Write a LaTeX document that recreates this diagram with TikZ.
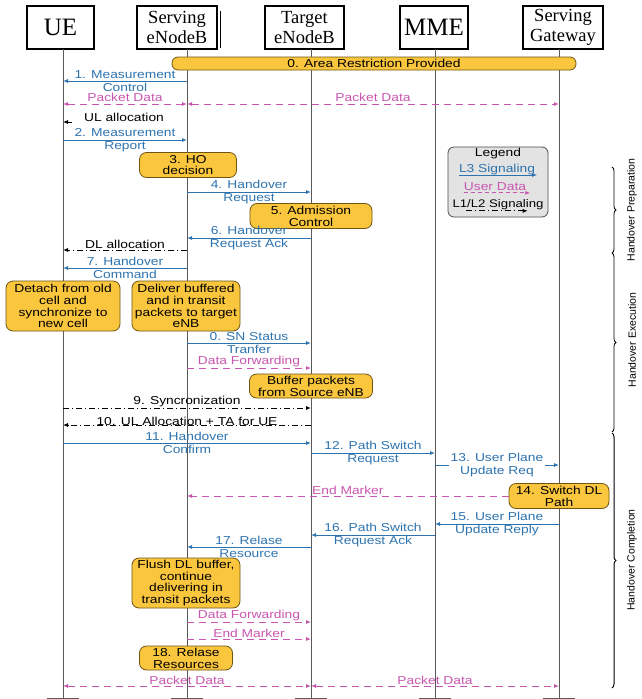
\documentclass[tikz,border=0pt]{standalone}
\usepackage{fontspec}
\setmainfont{Liberation Serif}
\setsansfont{Liberation Sans}[FakeStretch=1.2]
\newfontfamily\phasefont{Liberation Sans}
\usetikzlibrary{arrows.meta,decorations.pathreplacing}
\definecolor{lthree}{RGB}{45,115,175}
\definecolor{udata}{RGB}{200,85,175}
\definecolor{hobox}{RGB}{250,198,62}
\definecolor{hoedge}{RGB}{110,85,20}

\begin{document}
\begin{tikzpicture}[x=1pt,y=-1pt,
    head/.style={draw,line width=1.4pt,minimum height=43pt,inner sep=1pt,align=center,font=\fontsize{18.5}{20}\selectfont},
    life/.style={gray!70!black,line width=0.6pt},
    msg/.style={font=\sffamily\fontsize{11.5}{12.8}\selectfont,align=center,inner sep=0pt},
    l3/.style={lthree,line width=0.9pt,-{Latex[length=5pt,width=4pt]}},
    ud/.style={udata,line width=0.9pt,dash pattern=on 7pt off 5pt,-{Latex[length=5pt,width=4pt]}},
    udboth/.style={ud,{Latex[length=5pt,width=4pt]}-{Latex[length=5pt,width=4pt]}},
    l12/.style={black,line width=0.8pt,dash pattern=on 6pt off 3pt on 1pt off 3pt,-{Latex[length=5pt,width=4pt]}},
    action/.style={draw=hoedge,fill=hobox,rounded corners=7pt,line width=0.8pt,align=center,inner sep=1pt,font=\sffamily\fontsize{11.5}{11.8}\selectfont},
    phase/.style={decorate,decoration={brace,amplitude=4pt},line width=0.8pt}]
  \useasboundingbox (0,0) rectangle (641,699);

  % entities
  \node[head,minimum width=67pt,font=\fontsize{25}{27}\selectfont] (uehead) at (60.5,27.5) {UE};
  \node[head,minimum width=80pt] (senbhead) at (177,27.5) {Serving\\eNodeB};
  \node[head,minimum width=79pt] (tenbhead) at (304.5,27.5) {Target\\eNodeB};
  \node[head,minimum width=68pt,font=\fontsize{25}{27}\selectfont] (mmehead) at (434,27.5) {MME};
  \node[head,minimum width=80pt] (sgwhead) at (563,27.5) {Serving\\Gateway};
  \draw[line width=0.8pt] ([xshift=2.5pt,yshift=-6pt]senbhead.north east) -- ([xshift=2.5pt,yshift=2pt]senbhead.south east);

  \coordinate (ue) at (63,49);
  \coordinate (senb) at (187,49);
  \coordinate (tenb) at (311,49);
  \coordinate (mme) at (435,49);
  \coordinate (sgw) at (559,49);
  \foreach \n in {ue,senb,tenb,mme,sgw} {
    \coordinate (\n-end) at (\n |- 0,698);
    \draw[life] (\n) -- (\n |- 0,699);
    \draw[life] ([xshift=-16pt]\n-end) -- ([xshift=16pt]\n-end);
  }

  \foreach \m/\y in {m1/81,pd/104,ul/122,m2/140,m4/192,m6/238,dl/250,m7/268,m8/343,df/368,m9/408,m10/425,m11/443,m12/453,m13/465,m15/524,m16/535,m17/547,dfb/622,emb/639,pdb/686}
    \coordinate (\m) at (0,\y);

  % legend
  \node[draw=gray!60!black,fill=gray!22,rounded corners=6pt,line width=0.8pt,minimum width=100pt,minimum height=70pt] (legend) at (498,182) {};
  \node[msg] (legtitle) at (498,154) {Legend};
  \node[msg,lthree] (legl3) at (497,170) {L3 Signaling};
  \node[msg,udata] (legud) at (495,187) {User Data};
  \node[msg,font=\sffamily\fontsize{11}{12}\selectfont] (legl12) at (498,205) {L1/L2 Signaling};
  \draw[l3] ([yshift=-2pt]legl3.base west) -- ([xshift=2pt,yshift=-2pt]legl3.base east);
  \draw[ud,dash pattern=on 4pt off 3pt] ([yshift=-2pt]legud.base west) -- ([xshift=4pt,yshift=-2pt]legud.base east);
  \draw[l12] ([xshift=14pt,yshift=-3pt]legl12.base west) -- ([xshift=-16pt,yshift=-3pt]legl12.base east);

  % phases
  \draw[phase] (612,167) -- (612,253);
  \draw[phase] (612,253) -- (612,432);
  \draw[phase,line width=1pt] (612,433) -- (612,688);
  \node[rotate=90,font=\phasefont\fontsize{10.5}{12}\selectfont] (prep) at (632,210) {Handover Preparation};
  \node[rotate=90,font=\phasefont\fontsize{10.5}{12}\selectfont] (exec) at (632,340) {Handover Execution};
  \node[rotate=90,font=\phasefont\fontsize{10.5}{12}\selectfont] (comp) at (632,560) {Handover Completion};

  % preparation
  \node[action,minimum width=404pt,minimum height=13pt,rounded corners=6pt] (area) at (374,63.5) {0. Area Restriction Provided};
  \draw[l3] (senb |- m1) -- node[msg,lthree] (m1txt) {1. Measurement\\Control} (ue |- m1);
  \draw[udboth] (ue |- pd) -- node[msg,udata,above=2pt] (pdtxta) {Packet Data} (senb |- pd);
  \draw[udboth] (senb |- pd) -- node[msg,udata,above=2pt] (pdtxtb) {Packet Data} (sgw |- pd);
  \coordinate (ulstub) at (72,122);
  \draw[l12] (ulstub) -- (ue |- ul);
  \node[msg] (ultxt) at (124,117) {UL allocation};
  \draw[l3] (ue |- m2) -- node[msg,lthree] (m2txt) {2. Measurement\\Report} (senb |- m2);
  \node[action,minimum width=97pt,minimum height=25pt] (hodec) at (188,165) {3. HO\\decision};
  \draw[l3] (senb |- m4) -- node[msg,lthree] (m4txt) {4. Handover\\Request} (tenb |- m4);
  \node[action,minimum width=122pt,minimum height=25pt] (admit) at (311,216) {5. Admission\\Control};
  \draw[l3] (tenb |- m6) -- node[msg,lthree] (m6txt) {6. Handover\\Request Ack} (senb |- m6);
  \draw[l12] (senb |- dl) -- node[msg,above=1pt] (dltxt) {DL allocation} (ue |- dl);
  \draw[l3] (senb |- m7) -- node[msg,lthree] (m7txt) {7. Handover\\Command} (ue |- m7);

  % execution
  \node[action,minimum width=114pt,minimum height=50pt] (detach) at (63,306) {Detach from old\\cell and\\synchronize to\\new cell};
  \node[action,minimum width=108pt,minimum height=50pt] (deliver) at (186,306) {Deliver buffered\\and in transit\\packets to target\\eNB};
  \draw[l3] (senb |- m8) -- node[msg,lthree] (m8txt) {0. SN Status\\Tranfer} (tenb |- m8);
  \draw[ud] (senb |- df) -- node[msg,udata,above=1pt] (dftxt) {Data Forwarding} (tenb |- df);
  \node[action,minimum width=123pt,minimum height=24pt] (buffer) at (311,386) {Buffer packets\\from Source eNB};
  \draw[l12] (ue |- m9) -- node[msg,above=1pt] (m9txt) {9. Syncronization} (tenb |- m9);
  \draw[l12] (tenb |- m10) -- node[msg,above=-1pt] (m10txt) {10. UL Allocation + TA for UE} (ue |- m10);
  \draw[l3] (ue |- m11) -- node[msg,lthree] (m11txt) {11. Handover\\Confirm} (tenb |- m11);

  % completion
  \draw[l3] (tenb |- m12) -- node[msg,lthree] (m12txt) {12. Path Switch\\Request} (mme |- m12);
  \draw[l3] (mme |- m13) -- node[msg,lthree,fill=white,inner sep=2pt] (m13txt) {13. User Plane\\Update Req} (sgw |- m13);
  \node[action,minimum width=100pt,minimum height=25pt] (switchdl) at (559,496) {14. Switch DL\\Path};
  \draw[ud] (switchdl.west) -- node[msg,udata,above=1pt] (emtxt) {End Marker} (senb |- switchdl.west);
  \draw[l3] (sgw |- m15) -- node[msg,lthree] (m15txt) {15. User Plane\\Update Reply} (mme |- m15);
  \draw[l3] (mme |- m16) -- node[msg,lthree] (m16txt) {16. Path Switch\\Request Ack} (tenb |- m16);
  \draw[l3] (tenb |- m17) -- node[msg,lthree] (m17txt) {17. Relase\\Resource} (senb |- m17);
  \node[action,minimum width=108pt,minimum height=50pt] (flush) at (186,583) {Flush DL buffer,\\continue\\delivering in\\transit packets};
  \draw[ud] (senb |- dfb) -- node[msg,udata,above=1pt] (dfbtxt) {Data Forwarding} (tenb |- dfb);
  \draw[ud] (senb |- emb) -- node[msg,udata,above=1pt] (embtxt) {End Marker} (tenb |- emb);
  \node[action,minimum width=93pt,minimum height=24pt] (release) at (186,658) {18. Relase\\Resources};
  \draw[udboth] (ue |- pdb) -- node[msg,udata,above=1pt] (pdbtxta) {Packet Data} (tenb |- pdb);
  \draw[udboth] (tenb |- pdb) -- node[msg,udata,above=1pt] (pdbtxtb) {Packet Data} (sgw |- pdb);
\end{tikzpicture}
\end{document}
